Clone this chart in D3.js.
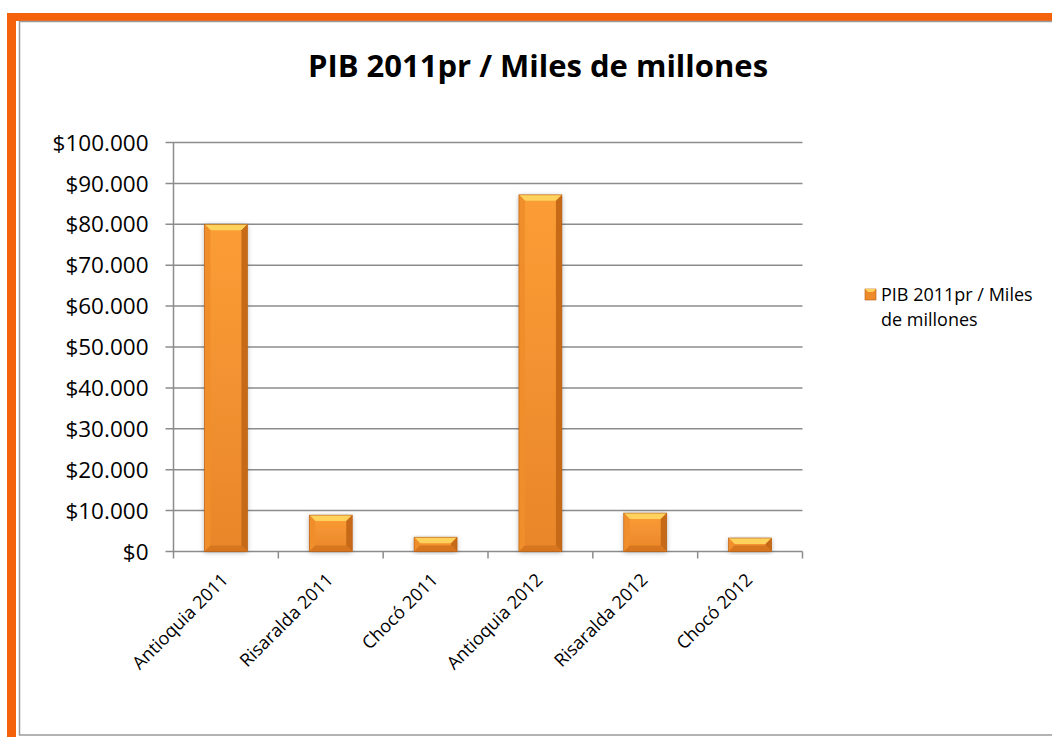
<!DOCTYPE html>
<html>
<head>
<meta charset="utf-8">
<script src="https://cdn.jsdelivr.net/npm/d3@7"></script>
<style>
  body { margin: 0; background: #fff; }
  svg { display: block; }
</style>
</head>
<body>
<div id="chart"></div>
<script>
// datos
const categorias = ["Antioquia 2011", "Risaralda 2011", "Chocó 2011", "Antioquia 2012", "Risaralda 2012", "Chocó 2012"];
const valores = [80000, 8900, 3500, 87200, 9400, 3300];
const ticksY = [0, 10000, 20000, 30000, 40000, 50000, 60000, 70000, 80000, 90000, 100000];
const titulo = "PIB 2011pr / Miles de millones";
const serie = ["PIB 2011pr / Miles", "de millones"];

const W = 1052, H = 737;
const margin = {top: 142.5, left: 173.5, right: 250, bottom: 185.5};
const width = 802.5 - margin.left;
const height = 551.5 - margin.top;
const font = "Open Sans, Liberation Sans, sans-serif";

const svg = d3.select("#chart").append("svg")
    .attr("width", W)
    .attr("height", H);

// marco naranja y borde gris
svg.append("rect").attr("x", 7).attr("y", 13).attr("width", W).attr("height", 8).attr("fill", "#f5620c");
svg.append("rect").attr("x", 7).attr("y", 13).attr("width", 9).attr("height", H).attr("fill", "#f5620c");
svg.append("rect")
    .attr("x", 19.5).attr("y", 21.5)
    .attr("width", W).attr("height", 713.5)
    .attr("fill", "#fff")
    .attr("stroke", "#9a9a9a")
    .attr("stroke-width", 1.5);

const defs = svg.append("defs");
const grad = defs.append("linearGradient").attr("id", "barGrad")
    .attr("x1", "0").attr("y1", "0").attr("x2", "0").attr("y2", "1");
grad.append("stop").attr("offset", "0%").attr("stop-color", "#fb9d36");
grad.append("stop").attr("offset", "100%").attr("stop-color", "#e9862a");

const filt = defs.append("filter").attr("id", "sombra").attr("x", "-30%").attr("y", "-10%").attr("width", "160%").attr("height", "130%");
filt.append("feDropShadow").attr("dx", 0).attr("dy", 1).attr("stdDeviation", 2.5).attr("flood-color", "#000").attr("flood-opacity", 0.3);

const chart = svg.append("g")
    .attr("transform", "translate(" + margin.left + "," + margin.top + ")");

const x = d3.scaleBand().domain(categorias).range([0, width]).paddingInner(0.59).paddingOuter(0.295);
const xTicks = d3.scaleBand().domain(categorias).range([0, width]);
const y = d3.scaleLinear().domain([0, 100000]).range([height, 0]);

// lineas de cuadricula
chart.append("g")
    .selectAll("line")
    .data(ticksY)
    .enter().append("line")
    .attr("x1", -8)
    .attr("x2", width)
    .attr("y1", function(d) { return y(d); })
    .attr("y2", function(d) { return y(d); })
    .attr("stroke", "#8c8c8c")
    .attr("stroke-width", 1.5);

// eje Y
chart.append("line")
    .attr("x1", 0).attr("x2", 0)
    .attr("y1", 0).attr("y2", height)
    .attr("stroke", "#8c8c8c").attr("stroke-width", 1.5);

const fmt = function(d) { return "$" + d3.format(",")(d).replace(/,/g, "."); };
chart.append("g")
    .selectAll("text")
    .data(ticksY)
    .enter().append("text")
    .attr("x", -25)
    .attr("y", function(d) { return y(d); })
    .attr("dy", "0.36em")
    .attr("text-anchor", "end")
    .attr("font-family", font)
    .attr("font-size", 22.5)
    .attr("fill", "#000")
    .text(fmt);

// marcas del eje X
const bordes = categorias.map(function(c) { return xTicks(c); }).concat([width]);
chart.append("g")
    .selectAll("line")
    .data(bordes)
    .enter().append("line")
    .attr("x1", function(d) { return d; })
    .attr("x2", function(d) { return d; })
    .attr("y1", height)
    .attr("y2", height + 7)
    .attr("stroke", "#8c8c8c").attr("stroke-width", 1.5);

// barras con bisel
const bw = x.bandwidth();
const bev = 6;
const barras = chart.append("g").selectAll("g")
    .data(valores)
    .enter().append("g")
    .attr("transform", function(d, i) { return "translate(" + x(categorias[i]) + "," + y(d) + ")"; });

barras.append("rect")
    .attr("width", bw)
    .attr("height", function(d) { return height - y(d); })
    .attr("fill", "url(#barGrad)")
    .attr("filter", "url(#sombra)");

function bisel(h, lado) {
    const b = Math.min(bev, h / 2);
    if (lado === "top") return [[0, 0], [bw, 0], [bw - b, b], [b, b]];
    if (lado === "bottom") return [[0, h], [bw, h], [bw - b, h - b], [b, h - b]];
    if (lado === "left") return [[0, 0], [b, b], [b, h - b], [0, h]];
    return [[bw, 0], [bw - b, b], [bw - b, h - b], [bw, h]];
}
const lados = [["top", "#ffd25e"], ["left", "#f08e2c"], ["right", "#c76a18"], ["bottom", "#d7761f"]];
lados.forEach(function(l) {
    barras.append("polygon")
        .attr("points", function(d) { return bisel(height - y(d), l[0]).join(" "); })
        .attr("fill", l[1]);
});
barras.append("rect")
    .attr("width", bw)
    .attr("height", function(d) { return height - y(d); })
    .attr("fill", "none")
    .attr("stroke", "#b35d12")
    .attr("stroke-width", 0.6);

// etiquetas X giradas
chart.append("g")
    .selectAll("text")
    .data(categorias)
    .enter().append("text")
    .attr("transform", function(d) {
        return "translate(" + (xTicks(d) + xTicks.bandwidth() / 2 - 1) + "," + (height + 25) + ") rotate(-45)";
    })
    .attr("text-anchor", "end")
    .attr("dy", "0.35em")
    .attr("font-family", font)
    .attr("font-size", 18)
    .attr("fill", "#000")
    .text(function(d) { return d; });

// titulo
svg.append("text")
    .attr("x", 538)
    .attr("y", 77)
    .attr("text-anchor", "middle")
    .attr("font-family", font)
    .attr("font-weight", "bold")
    .attr("font-size", 31)
    .attr("fill", "#000")
    .text(titulo);

// leyenda
const leyenda = svg.append("g").attr("transform", "translate(865,289)");
leyenda.append("rect").attr("width", 11).attr("height", 11).attr("fill", "#ee8a2a").attr("stroke", "#b35d12").attr("stroke-width", 0.6);
leyenda.append("polygon").attr("points", "0,0 11,0 8,3 3,3").attr("fill", "#ffd25e");
leyenda.selectAll("text.serie")
    .data(serie)
    .enter().append("text")
    .attr("class", "serie")
    .attr("x", 16)
    .attr("y", function(d, i) { return 12 + i * 25; })
    .attr("font-family", font)
    .attr("font-size", 18)
    .attr("fill", "#000")
    .text(function(d) { return d; });
</script>
</body>
</html>
